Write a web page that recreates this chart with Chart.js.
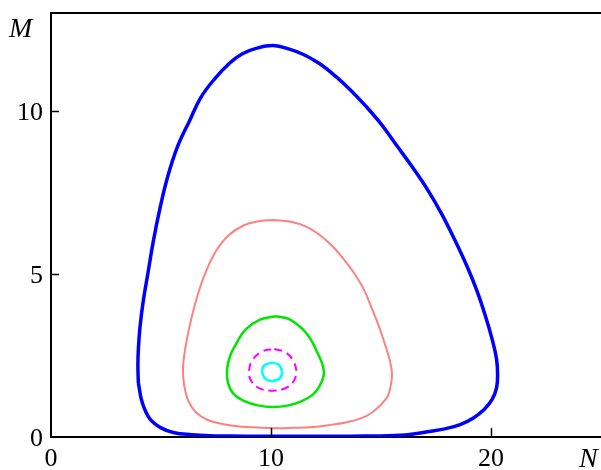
<!DOCTYPE html>
<html><head><meta charset="utf-8">
<script src="https://cdn.jsdelivr.net/npm/chart.js@4/dist/chart.umd.min.js"></script>
<style>html,body{margin:0;padding:0;background:#fff}#wrap{width:601px;height:470px;position:relative}</style>
</head><body><div id="wrap"><canvas id="c" width="601" height="470"></canvas></div>
<script>
const xTicks = [0, 10, 20];
const yTicks = [0, 5, 10];
const xLabel = 'N';
const yLabel = 'M';

const blueN = [3.97, 3.95, 3.97, 4.05, 4.2, 4.4, 4.65, 4.95, 5.3, 5.75, 6.3, 6.8, 7.4, 8.1, 8.7, 9.4, 10.1, 10.8, 11.5, 12.2, 12.9, 13.6, 14.3, 15.0, 15.7, 16.4, 17.1, 17.75, 18.35, 18.9, 19.35, 19.75, 20.05, 20.25, 20.3, 20.25, 20.05, 19.7, 19.2, 18.6, 17.9, 17.1, 16.3, 15.3, 14.2, 13.0, 11.8, 10.6, 9.4, 8.2, 7.2, 6.4, 5.6, 5.0, 4.5, 4.15, 3.97];
const blueM = [1.66, 2.2, 2.68, 3.4, 4.2, 5.0, 6.0, 7.0, 7.97, 8.9, 9.7, 10.4, 10.95, 11.45, 11.75, 11.93, 12.0, 11.9, 11.72, 11.45, 11.08, 10.65, 10.15, 9.6, 8.95, 8.3, 7.6, 6.85, 6.05, 5.25, 4.5, 3.7, 3.0, 2.4, 1.9, 1.5, 1.15, 0.85, 0.58, 0.38, 0.25, 0.16, 0.08, 0.04, 0.03, 0.02, 0.02, 0.02, 0.02, 0.03, 0.04, 0.07, 0.13, 0.28, 0.55, 1.05, 1.66];

const pinkN = [10.1, 10.9, 11.6, 12.2, 12.75, 13.25, 13.75, 14.2, 14.55, 14.9, 15.2, 15.4, 15.5, 15.45, 15.3, 14.9, 14.35, 13.5, 12.6, 11.8, 11.0, 10.2, 9.4, 8.6, 7.8, 7.1, 6.6, 6.25, 6.05, 6.0, 6.1, 6.3, 6.6, 7.0, 7.5, 8.1, 8.8, 9.5, 10.1];
const pinkM = [6.65, 6.6, 6.45, 6.2, 5.88, 5.5, 5.05, 4.55, 4.0, 3.4, 2.8, 2.35, 1.95, 1.6, 1.25, 0.93, 0.65, 0.46, 0.36, 0.3, 0.28, 0.27, 0.29, 0.32, 0.4, 0.53, 0.75, 1.1, 1.6, 2.1, 2.7, 3.4, 4.2, 5.0, 5.7, 6.2, 6.5, 6.62, 6.65];

const greenN = [10.2, 10.8, 11.45, 11.8, 12.1, 12.35, 12.4, 12.2, 11.9, 11.4, 10.8, 10.1, 9.4, 8.8, 8.3, 8.05, 8.0, 8.15, 8.45, 8.85, 9.5, 10.2];
const greenM = [3.7, 3.62, 3.3, 3.0, 2.6, 2.2, 1.9, 1.55, 1.3, 1.1, 0.97, 0.92, 0.97, 1.1, 1.32, 1.65, 2.06, 2.5, 2.9, 3.3, 3.6, 3.7];

const magentaN = [10.15, 10.65, 11.0, 11.15, 11.0, 10.6, 10.0, 9.45, 9.1, 9.0, 9.15, 9.6, 10.15];
const magentaM = [2.7, 2.6, 2.35, 2.0, 1.68, 1.48, 1.42, 1.5, 1.72, 2.0, 2.35, 2.62, 2.7];

const cyanN = [10.05, 10.35, 10.5, 10.4, 10.05, 9.75, 9.6, 9.7, 10.05];
const cyanM = [2.28, 2.22, 2.0, 1.8, 1.72, 1.78, 2.0, 2.2, 2.28];

const pts = (xs, ys) => xs.map((x, i) => ({x: x, y: ys[i]}));

const axisDeco = {
  id: 'axisDeco',
  afterDraw(chart) {
    const ctx = chart.ctx, a = chart.chartArea;
    const xs = chart.scales.x, ys = chart.scales.y;
    ctx.save();
    ctx.strokeStyle = '#000';
    ctx.lineWidth = 2;
    ctx.beginPath();
    ctx.moveTo(a.left - 1, a.top);
    ctx.lineTo(a.right, a.top);
    ctx.stroke();
    ctx.lineWidth = 1.5;
    xs.ticks.forEach(t => {
      if (t.value === 0) return;
      const px = Math.round(xs.getPixelForValue(t.value)) + 0.5;
      ctx.beginPath(); ctx.moveTo(px, a.bottom); ctx.lineTo(px, a.bottom - 9); ctx.stroke();
    });
    ys.ticks.forEach(t => {
      if (t.value === 0) return;
      const py = Math.round(ys.getPixelForValue(t.value)) + 0.5;
      ctx.beginPath(); ctx.moveTo(a.left, py); ctx.lineTo(a.left + 8, py); ctx.stroke();
    });
    ctx.fillStyle = '#000';
    ctx.font = 'italic 28px "Liberation Serif"';
    ctx.textBaseline = 'alphabetic';
    ctx.textAlign = 'left';
    ctx.fillText(yLabel, 9, 37);
    ctx.fillText(xLabel, 579, 467);
    ctx.restore();
  }
};

new Chart(document.getElementById('c'), {
  type: 'scatter',
  data: {
    datasets: [
      {data: pts(blueN, blueM), borderColor: '#0000ff', borderWidth: 3.5},
      {data: pts(pinkN, pinkM), borderColor: '#ff8080', borderWidth: 2},
      {data: pts(greenN, greenM), borderColor: '#00e600', borderWidth: 2.5},
      {data: pts(magentaN, magentaM), borderColor: '#ff00ff', borderWidth: 2, borderDash: [8, 5]},
      {data: pts(cyanN, cyanM), borderColor: '#00ffff', borderWidth: 2.5}
    ].map(d => Object.assign(d, {showLine: true, pointRadius: 0, fill: false, tension: 0.4}))
  },
  options: {
    responsive: false,
    animation: false,
    devicePixelRatio: 1,
    layout: {padding: {top: 13, right: 0, left: 0, bottom: 0}},
    plugins: {legend: {display: false}, tooltip: {enabled: false}},
    scales: {
      x: {
        type: 'linear', min: 0, max: 25,
        afterBuildTicks: s => { s.ticks = xTicks.map(v => ({value: v})); },
        afterFit: s => { s.height = 33; s.paddingLeft = 0; s.paddingRight = 0; },
        grid: {display: true, drawOnChartArea: false, drawTicks: false, lineWidth: 1},
        border: {display: true, color: '#000', width: 2},
        ticks: {color: '#000', font: {family: '"Liberation Serif"', size: 26}, padding: 7, maxRotation: 0}
      },
      y: {
        type: 'linear', min: 0, max: 13,
        afterBuildTicks: s => { s.ticks = yTicks.map(v => ({value: v})); },
        afterFit: s => { s.width = 51; s.paddingTop = 0; s.paddingBottom = 0; },
        grid: {display: true, drawOnChartArea: false, drawTicks: false, lineWidth: 1},
        border: {display: true, color: '#000', width: 2},
        ticks: {color: '#000', font: {family: '"Liberation Serif"', size: 26}, padding: 8, labelOffset: 2}
      }
    }
  },
  plugins: [axisDeco]
});
</script>
</body></html>
